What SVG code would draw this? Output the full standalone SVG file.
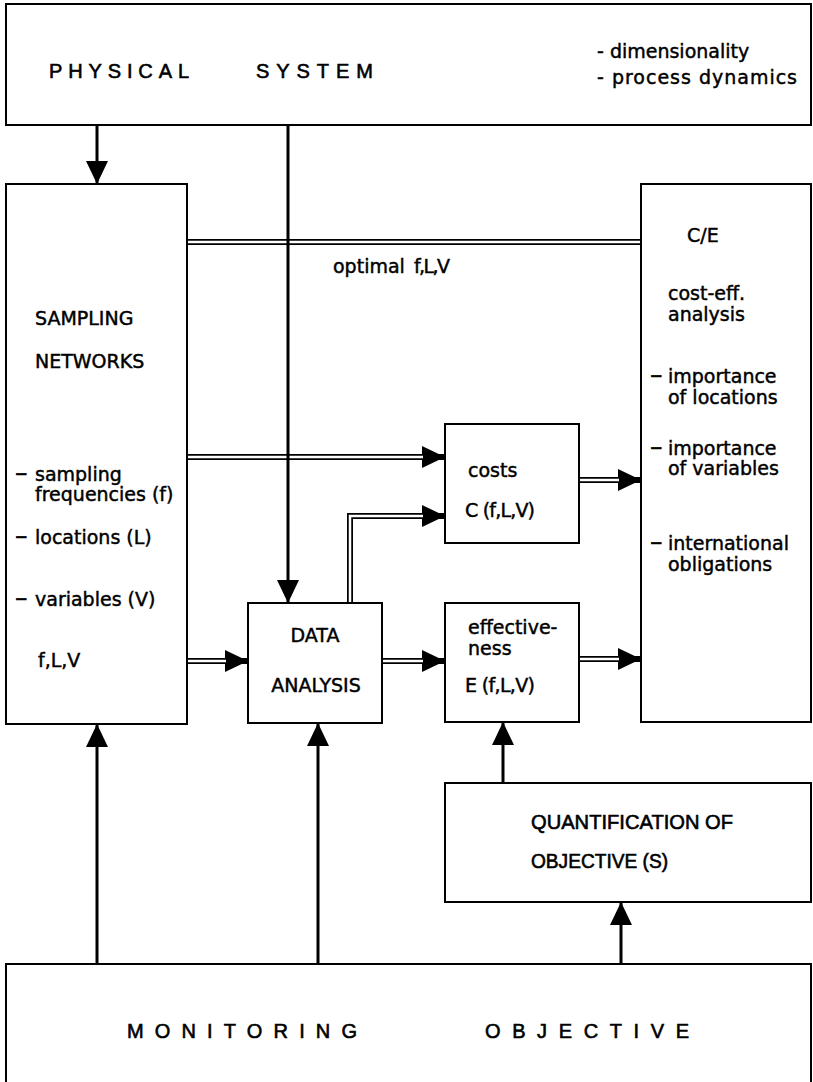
<svg xmlns="http://www.w3.org/2000/svg" width="813" height="1082" viewBox="0 0 813 1082">
<defs>
<style>
.box{fill:#fff;stroke:#000;stroke-width:2}
.t{font-family:"DejaVu Sans","Liberation Sans",sans-serif;font-size:19px;fill:#000;stroke:#000;stroke-width:0.45}
.d{font-size:25px}
.k{font-family:"Liberation Sans",Arial,sans-serif;font-size:20px;fill:#000;stroke:#000;stroke-width:0.6}
.s{fill:none;stroke:#000;stroke-width:3}
.dk{fill:none;stroke:#000;stroke-width:6}
.dw{fill:none;stroke:#fff;stroke-width:2.5}
</style>
<marker id="ah" markerUnits="userSpaceOnUse" markerWidth="24" markerHeight="24" viewBox="0 0 24 24" refX="23" refY="12" orient="auto">
<path d="M0,1 L23,12 L0,23 z" fill="#000"/>
</marker>
</defs>
<rect width="813" height="1082" fill="#fff"/>

<g id="physical-system">
<rect class="box" x="6" y="4" width="805" height="121"/>
<text class="k" x="49" y="78" textLength="140" lengthAdjust="spacing">PHYSICAL</text>
<text class="k" x="256" y="78" textLength="117" lengthAdjust="spacing">SYSTEM</text>
<text class="t" x="597" y="58">- dimensionality</text>
<text class="t" x="597" y="84" textLength="200" lengthAdjust="spacing">- process dynamics</text>
</g>

<g id="sampling-networks">
<rect class="box" x="6" y="184" width="181" height="540"/>
<text class="t" x="35" y="325">SAMPLING</text>
<text class="t" x="35" y="368">NETWORKS</text>
<text class="t" x="15" y="481"><tspan class="d">–</tspan><tspan x="35">sampling</tspan></text>
<text class="t" x="35" y="501">frequencies (f)</text>
<text class="t" x="15" y="544"><tspan class="d">–</tspan><tspan x="35">locations  (L)</tspan></text>
<text class="t" x="15" y="606"><tspan class="d">–</tspan><tspan x="35">variables  (V)</tspan></text>
<text class="t" x="38" y="667">f,L,V</text>
</g>

<g id="ce-analysis">
<rect class="box" x="641" y="184" width="170" height="538"/>
<text class="t" x="687" y="242">C/E</text>
<text class="t" x="668" y="300">cost-eff.</text>
<text class="t" x="668" y="321">analysis</text>
<text class="t" x="650" y="383"><tspan class="d">–</tspan><tspan x="668">importance</tspan></text>
<text class="t" x="668" y="404">of locations</text>
<text class="t" x="650" y="455"><tspan class="d">–</tspan><tspan x="668">importance</tspan></text>
<text class="t" x="668" y="475">of variables</text>
<text class="t" x="650" y="550"><tspan class="d">–</tspan><tspan x="668">international</tspan></text>
<text class="t" x="668" y="571">obligations</text>
</g>

<g id="costs">
<rect class="box" x="445" y="424" width="134" height="119"/>
<text class="t" x="468" y="477">costs</text>
<text class="t" x="465" y="517" textLength="70" lengthAdjust="spacing">C (f,L,V)</text>
</g>

<g id="data-analysis">
<rect class="box" x="248" y="603" width="134" height="120"/>
<text class="t" x="315" y="642" text-anchor="middle">DATA</text>
<text class="t" x="316" y="692" text-anchor="middle">ANALYSIS</text>
</g>

<g id="effectiveness">
<rect class="box" x="445" y="603" width="134" height="119"/>
<text class="t" x="468" y="634">effective-</text>
<text class="t" x="468" y="655">ness</text>
<text class="t" x="465" y="692" textLength="70" lengthAdjust="spacing">E (f,L,V)</text>
</g>

<g id="quantification">
<rect class="box" x="445" y="783" width="366" height="119"/>
<text class="k" x="531" y="829" textLength="202" lengthAdjust="spacingAndGlyphs">QUANTIFICATION  OF</text>
<text class="k" x="531" y="868" textLength="137" lengthAdjust="spacingAndGlyphs">OBJECTIVE (S)</text>
</g>

<g id="monitoring-objective">
<rect class="box" x="6" y="964" width="805" height="130"/>
<text class="k" x="127" y="1038" textLength="230" lengthAdjust="spacing">MONITORING</text>
<text class="k" x="485" y="1038" textLength="204" lengthAdjust="spacing">OBJECTIVE</text>
</g>

<g id="connectors">
<path class="dk" d="M187,242 H641"/>
<path class="dw" d="M188,242 H640"/>
<text class="t" x="333" y="273">optimal<tspan x="414" textLength="36" lengthAdjust="spacing">f,L,V</tspan></text>
<path class="dk" d="M187,457 H445" marker-end="url(#ah)"/>
<path class="dw" d="M188,457 H423"/>
<path class="dk" d="M350,603 V516 H445" marker-end="url(#ah)"/>
<path class="dw" d="M350,602 V516 H423"/>
<path class="dk" d="M579,480 H641" marker-end="url(#ah)"/>
<path class="dw" d="M580,480 H619"/>
<path class="dk" d="M187,661 H248" marker-end="url(#ah)"/>
<path class="dw" d="M188,661 H226"/>
<path class="dk" d="M382,661 H445" marker-end="url(#ah)"/>
<path class="dw" d="M383,661 H423"/>
<path class="dk" d="M579,659 H641" marker-end="url(#ah)"/>
<path class="dw" d="M580,659 H619"/>
<path class="s" d="M97,125 V184" marker-end="url(#ah)"/>
<path class="s" d="M288,125 V603" marker-end="url(#ah)"/>
<path class="s" d="M97,964 V724" marker-end="url(#ah)"/>
<path class="s" d="M318,964 V723" marker-end="url(#ah)"/>
<path class="s" d="M621,964 V902" marker-end="url(#ah)"/>
<path class="s" d="M503,783 V722" marker-end="url(#ah)"/>
</g>
</svg>
